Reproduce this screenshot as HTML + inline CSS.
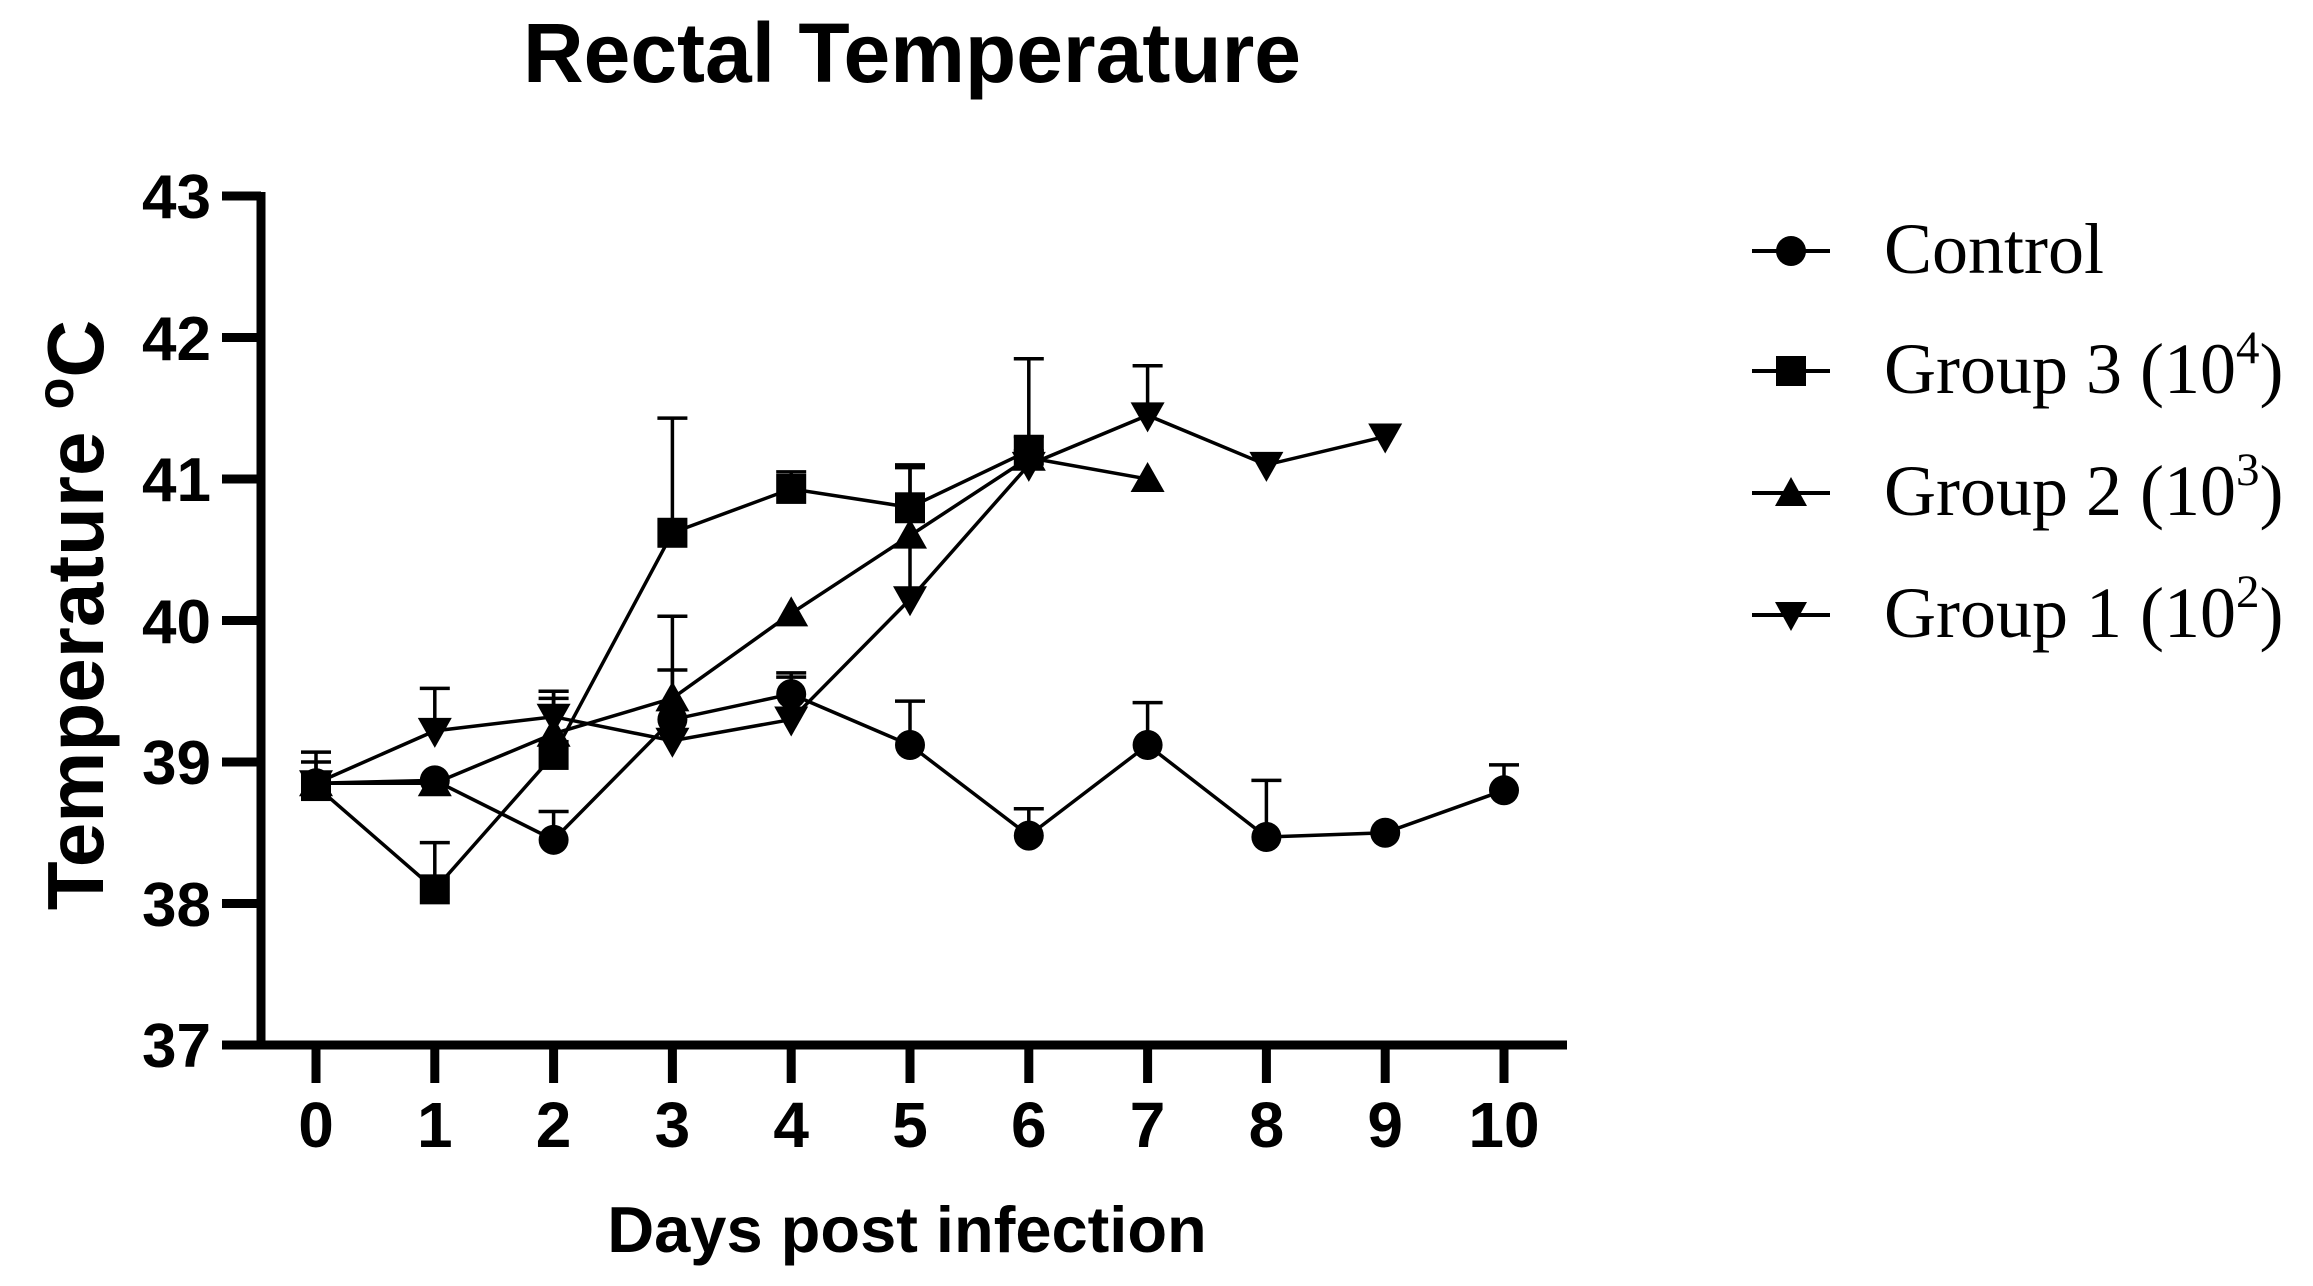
<!DOCTYPE html>
<html><head><meta charset="utf-8"><style>
html,body{margin:0;padding:0;background:#fff;}
svg{display:block;}
.b{font-family:"Liberation Sans",Arial,sans-serif;font-weight:bold;}
.t{font-family:"Liberation Serif","Times New Roman",serif;}
</style></head><body>
<svg id="s" width="2313" height="1286" viewBox="0 0 2313 1286" xmlns="http://www.w3.org/2000/svg">
<rect width="2313" height="1286" fill="#fff"/>
<text class="b" x="912" y="82" font-size="84" text-anchor="middle">Rectal Temperature</text>
<g stroke="#000" stroke-width="9" fill="none">
<line x1="261" y1="192" x2="261" y2="1049"/>
<line x1="257" y1="1045" x2="1567" y2="1045"/>
<line x1="222" y1="196" x2="261" y2="196"/>
<line x1="222" y1="337.5" x2="261" y2="337.5"/>
<line x1="222" y1="479" x2="261" y2="479"/>
<line x1="222" y1="620.5" x2="261" y2="620.5"/>
<line x1="222" y1="762" x2="261" y2="762"/>
<line x1="222" y1="903.5" x2="261" y2="903.5"/>
<line x1="222" y1="1045" x2="261" y2="1045"/>
<g id="xt"></g>
</g>
<g class="b" font-size="62" text-anchor="end">
<text x="211" y="218">43</text><text x="211" y="360">42</text><text x="211" y="501">41</text>
<text x="211" y="643">40</text><text x="211" y="784">39</text><text x="211" y="926">38</text>
<text x="211" y="1067">37</text>
</g>
<g class="b" font-size="64" text-anchor="middle">
<text x="316" y="1147">0</text><text x="434.8" y="1147">1</text><text x="553.6" y="1147">2</text>
<text x="672.4" y="1147">3</text><text x="791.2" y="1147">4</text><text x="910" y="1147">5</text>
<text x="1028.8" y="1147">6</text><text x="1147.6" y="1147">7</text><text x="1266.4" y="1147">8</text>
<text x="1385.2" y="1147">9</text><text x="1504" y="1147">10</text>
</g>
<text class="b" x="907" y="1252" font-size="65" text-anchor="middle">Days post infection</text>
<text class="b" transform="translate(103,615) rotate(-90)" font-size="80" text-anchor="middle">Temperature <tspan font-size="52" dy="-30">o</tspan><tspan dy="30">C</tspan></text>
<g id="data"></g>
<g stroke="#000" stroke-width="4">
<line x1="1752" y1="251" x2="1830" y2="251"/>
<line x1="1752" y1="371" x2="1830" y2="371"/>
<line x1="1752" y1="493" x2="1830" y2="493"/>
<line x1="1752" y1="615" x2="1830" y2="615"/>
</g>
<circle cx="1791" cy="251" r="15" fill="#000"/>
<rect x="1776" y="356" width="30" height="30" fill="#000"/>
<polygon points="1791,477 1807,506 1775,506" fill="#000"/>
<polygon points="1791,631 1807,602 1775,602" fill="#000"/>
<g class="t" font-size="72">
<text x="1884" y="273">Control</text>
<text x="1884" y="393">Group 3 (10<tspan font-size="47" dy="-30">4</tspan><tspan dy="30">)</tspan></text>
<text x="1884" y="515">Group 2 (10<tspan font-size="47" dy="-30">3</tspan><tspan dy="30">)</tspan></text>
<text x="1884" y="637">Group 1 (10<tspan font-size="47" dy="-30">2</tspan><tspan dy="30">)</tspan></text>
</g>
</svg>
<script>
(function(){
var NS="http://www.w3.org/2000/svg";
function X(d){return 316+118.8*d;}
function Y(t){return 1045-(t-37)*141.5;}
function el(tag,a,p){var e=document.createElementNS(NS,tag);for(var k in a)e.setAttribute(k,a[k]);p.appendChild(e);return e;}
var xt=document.getElementById('xt');
for(var i=0;i<=10;i++)el('line',{x1:X(i),y1:1045,x2:X(i),y2:1083},xt);
var g=document.getElementById('data');
var S=[
 {m:'c',d:[[0,38.85,0],[1,38.87,0],[2,38.45,38.65],[3,39.3,0],[4,39.48,39.63],[5,39.12,39.43],[6,38.48,38.67],[7,39.12,39.42],[8,38.47,38.87],[9,38.5,0],[10,38.8,38.98]]},
 {m:'s',d:[[0,38.83,39.07],[1,38.1,38.43],[2,39.05,39.45],[3,40.62,41.43],[4,40.93,41.05],[5,40.8,41.08],[6,41.2,41.85]]},
 {m:'u',d:[[0,38.85,0],[1,38.85,0],[2,39.2,39.5],[3,39.45,40.03],[4,40.05,0],[5,40.6,41.1],[6,41.15,41.3],[7,41.0,0]]},
 {m:'v',d:[[0,38.85,39.0],[1,39.22,39.52],[2,39.32,39.5],[3,39.15,39.65],[4,39.3,39.6],[5,40.15,40.7],[6,41.1,41.2],[7,41.45,41.8],[8,41.1,0],[9,41.3,0]]}
];
S.forEach(function(s){
 var pts=s.d.map(function(p){return X(p[0])+','+Y(p[1]);}).join(' ');
 s.d.forEach(function(p){if(p[2]){el('line',{x1:X(p[0]),y1:Y(p[1]),x2:X(p[0]),y2:Y(p[2]),stroke:'#000','stroke-width':3.5},g);
   el('line',{x1:X(p[0])-15,y1:Y(p[2]),x2:X(p[0])+15,y2:Y(p[2]),stroke:'#000','stroke-width':3.5},g);}});
 el('polyline',{points:pts,fill:'none',stroke:'#000','stroke-width':3.5},g);
});
S.forEach(function(s){
 s.d.forEach(function(p){var x=X(p[0]),y=Y(p[1]);
  if(s.m=='c')el('circle',{cx:x,cy:y,r:15},g);
  else if(s.m=='s')el('rect',{x:x-15,y:y-15,width:30,height:30},g);
  else if(s.m=='u')el('polygon',{points:x+','+(y-17)+' '+(x+17)+','+(y+13)+' '+(x-17)+','+(y+13)},g);
  else el('polygon',{points:x+','+(y+17)+' '+(x+17)+','+(y-13)+' '+(x-17)+','+(y-13)},g);
 });
});
})();
</script>
</body></html>
